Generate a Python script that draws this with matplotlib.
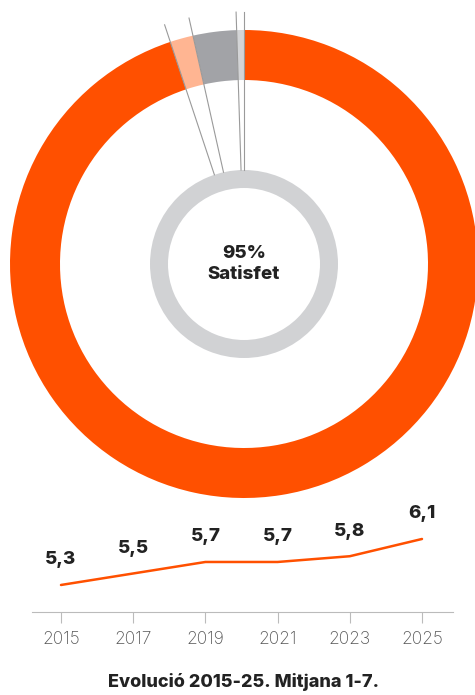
import matplotlib.pyplot as plt
import numpy as np

# donut data (share of answers, %)
shares = [0.5, 3.0, 1.6, 94.9]
share_colors = ['#D3D4D6', '#A2A3A7', '#FFB592', '#FF5000']
center_label = '95%\nSatisfet'

# evolution data
years = [2015, 2017, 2019, 2021, 2023, 2025]
means = [5.3, 5.5, 5.7, 5.7, 5.8, 6.1]
mean_labels = ['5,3', '5,5', '5,7', '5,7', '5,8', '6,1']
title = 'Evolució 2015-25. Mitjana 1-7.'

plt.rcParams['font.family'] = ['Inter', 'DejaVu Sans']

W, H = 475, 695
fig = plt.figure(figsize=(W / 100, H / 100), dpi=100)

# Donut, in pixel-like coords
ax = fig.add_axes([0, 0, 1, 1])
cx, cy = 244, H - 264
ax.pie(shares, colors=share_colors, radius=234, center=(cx, cy),
       startangle=90, counterclock=True,
       wedgeprops=dict(width=50, linewidth=0))
ax.pie([1], colors=['#D1D2D4'], radius=94, center=(cx, cy),
       wedgeprops=dict(width=18, linewidth=0))

# leader lines at the small slice boundaries
bounds = np.concatenate([[0], np.cumsum(shares[:-1])])
for b in bounds:
    ang = np.deg2rad(90 + b * 3.6)
    ax.plot([cx + 94 * np.cos(ang), cx + 252 * np.cos(ang)],
            [cy + 94 * np.sin(ang), cy + 252 * np.sin(ang)],
            color='#9a9a9a', lw=0.8, zorder=5)

ax.text(cx, cy, center_label, ha='center', va='center', fontsize=13.5,
        fontweight='heavy', color='#222222', linespacing=1.3)
ax.set_xlim(0, W)
ax.set_ylim(0, H)
ax.set_aspect('equal')
ax.axis('off')

# Line chart
left, right = 32, 453
bottom, top = 612, 510
lx = fig.add_axes([left / W, 1 - bottom / H, (right - left) / W, (bottom - top) / H])
lx.patch.set_alpha(0)
lx.plot(years, means, color='#FF5000', lw=1.8, solid_capstyle='round')
for x, y, lab in zip(years, means, mean_labels):
    lx.annotate(lab, (x, y), xytext=(0, 18), textcoords='offset points',
                ha='center', va='center', fontsize=13.5, fontweight='heavy',
                color='#222222')
lx.set_xlim(2014.197, 2025.859)
lx.set_ylim(4.83, 6.604)
lx.set_xticks(years)
lx.set_yticks([])
for s in ['top', 'right', 'left']:
    lx.spines[s].set_visible(False)
lx.spines['bottom'].set_color('#bbbbbb')
lx.tick_params(axis='x', length=8, color='#bbbbbb', pad=6,
               labelsize=12.5, labelcolor='#555555')
for t in lx.get_xticklabels():
    t.set_fontweight('light')

fig.text(244 / W, 1 - 682 / H, title, ha='center', va='center',
         fontsize=13, fontweight='heavy', color='#222222')

fig.savefig('out.png', dpi=100)
